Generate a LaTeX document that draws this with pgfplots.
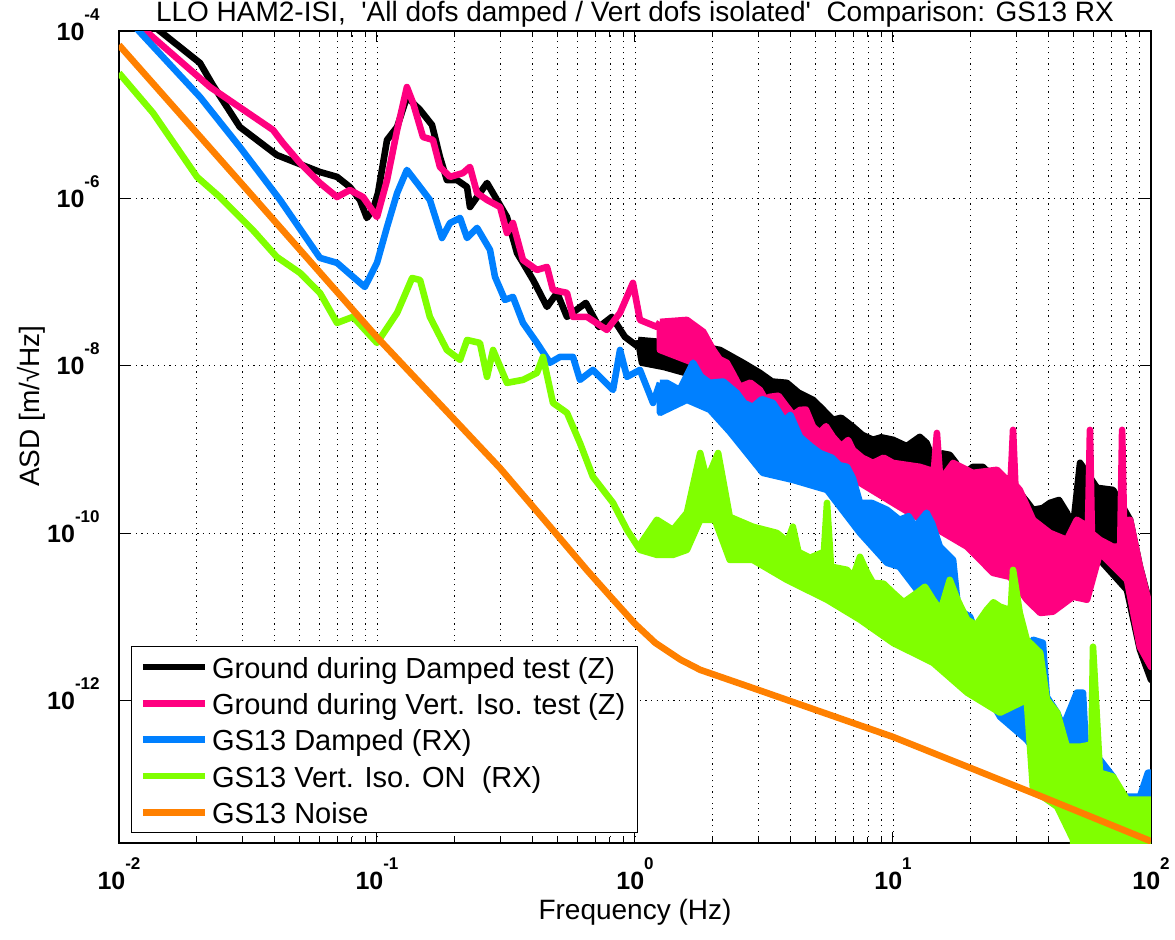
\documentclass[border=0pt]{standalone}
\usepackage{pgfplots}
\pgfplotsset{compat=1.18}
\usepackage{fontspec}
\setmainfont{Liberation Sans}
\definecolor{cpink}{RGB}{255,0,128}
\definecolor{cblue}{RGB}{0,128,255}
\definecolor{cgreen}{RGB}{128,255,0}
\definecolor{corange}{RGB}{255,128,0}
\newcommand{\tl}[1]{10\raisebox{10pt}{\fontsize{8.5}{10}\selectfont\bfseries #1}}
\begin{document}
\begin{tikzpicture}
\begin{axis}[
  xmode=log, ymode=log,
  scale only axis, width=516pt, height=406pt,
  xmin=0.01, xmax=100, ymin=2e-14, ymax=1e-4,
  xtick={0.01,0.1,1,10,100},
  xticklabels={\tl{-2},\tl{-1},\tl{0},\tl{1},\tl{2}},
  minor xtick={0.02,0.03,0.04,0.05,0.06,0.07,0.08,0.09,0.2,0.3,0.4,0.5,0.6,0.7,0.8,0.9,2,3,4,5,6,7,8,9,20,30,40,50,60,70,80,90},
  ytick={1e-12,1e-10,1e-8,1e-6,1e-4},
  yticklabels={\tl{-12},\tl{-10},\tl{-8},\tl{-6},\tl{-4}},
  yminorticks=false,
  xmajorgrids, xminorgrids, ymajorgrids,
  grid style={black, line width=0.4pt, dash pattern=on 0.6pt off 2.2pt},
  major grid style={black, line width=0.4pt, dash pattern=on 0.6pt off 2.2pt},
  minor grid style={black, line width=0.4pt, dash pattern=on 0.6pt off 2.2pt},
  tick align=inside, tick pos=both,
  major tick length=5.5pt, minor tick length=3pt,
  every tick/.style={black, line width=0.5pt},
  axis line style={line width=0.6pt},
  tick label style={font=\fontsize{12.5}{15}\selectfont\bfseries},
  xticklabel style={anchor=base, yshift=-23pt},
  yticklabel style={anchor=base east, inner xsep=0pt, xshift=-9.5pt, yshift=-4.5pt},
  every axis title shift=0pt,
  title={LLO HAM2-ISI,\ \ \textquotesingle All dofs damped / Vert dofs isolated\textquotesingle\ \ Comparison: GS13 RX},
  title style={font=\fontsize{14}{16}\selectfont, at={(rel axis cs:0.5,1.0111)}, anchor=base},
  xlabel={Frequency (Hz)},
  xlabel style={font=\fontsize{14}{16}\selectfont, at={(rel axis cs:0.5,-0.0948)}, anchor=base},
  ylabel={ASD [m/√Hz]},
  ylabel style={font=\fontsize{14}{16}\selectfont, at={(rel axis cs:-0.0766,0.538)}, anchor=base},
  every axis plot/.append style={line width=3.3pt, line join=round},
  legend cell align=left,
  legend image code/.code={\draw[#1] (0pt,0pt) -- (31pt,0pt);},
  legend style={at={(0.01163,0.01232)}, anchor=south west, draw=black, line width=0.5pt, fill=white,
    font=\fontsize{14.5}{17}\selectfont, inner xsep=4pt, inner ysep=0.9pt, row sep=0pt, column sep=0pt,
    nodes={inner xsep=2pt, inner ysep=0.4pt, text height=14.3pt, text depth=3.1pt}},
]
% ---------------- black: ground during damped test
\addplot[black] coordinates {
(0.01,2.5e-4) (0.0144,1e-4) (0.0206,4.15e-5) (0.0231,2.26e-5) (0.0294,7.14e-6) (0.0409,3.3e-6)
(0.049,2.65e-6) (0.0601,2.07e-6) (0.070,1.81e-6) (0.0785,1.37e-6) (0.0859,9.6e-7) (0.0914,5.85e-7)
(0.0964,7.3e-7) (0.1009,1.16e-6) (0.1094,5.0e-6) (0.1197,7.14e-6) (0.1306,1.63e-5) (0.1469,1.14e-5)
(0.1634,7.55e-6) (0.1754,3.13e-6) (0.1866,1.66e-6) (0.2042,1.66e-6) (0.2234,1.37e-6) (0.2293,7.9e-7)
(0.2443,1.04e-6) (0.267,1.53e-6) (0.2917,9.6e-7) (0.319,6.0e-7) (0.349,2.23e-7) (0.368,1.70e-7)
(0.403,1.06e-7) (0.456,5.07e-8) (0.499,7.45e-8) (0.545,3.85e-8) (0.645,5.65e-8) (0.725,2.92e-8)
(0.814,3.85e-8) (0.914,2.22e-8) (1.028,1.69e-8)
};
\addlegendentry{Ground during Damped test (Z)}
\addplot[black, fill=black, forget plot] coordinates {
(1.028,2.04e-8) (1.694,1.78e-8) (2.135,1.55e-8) (2.62,1.09e-8) (3.05,8.25e-9) (3.4,6.5e-9) (3.88,6.27e-9)
(4.3,4.8e-9) (4.90,3.93e-9) (5.3,3.1e-9) (5.85,2.27e-9) (6.3,2.4e-9) (7.0,1.87e-9) (7.6,1.5e-9)
(8.36,1.31e-9) (9.0,1.4e-9) (10,1.31e-9) (11.3,1.1e-9) (12.7,1.42e-9) (13.5,1.2e-9) (14.3,7.55e-10)
(15.5,9e-10) (16.6,8.65e-10) (17.5,7e-10) (18.2,4.72e-10) (20.4,6.22e-10) (22.3,6.22e-10) (24,5e-10)
(26.0,4.35e-10) (28,4.5e-10) (31.0,3.05e-10) (33,2.4e-10) (34.9,1.91e-10) (38,2.0e-10) (40.6,2.31e-10)
(44,2.5e-10) (47.2,1.76e-10) (49.9,1.20e-10) (53.1,6.95e-10) (61.8,3.49e-10)
(71.3,3.30e-10) (83.0,1.45e-10) (90.6,3.98e-11) (97.3,1.74e-11) (100,1.62e-11)
(100,1.78e-12) (90.6,4.07e-12) (80.7,2.11e-11) (63.4,4.82e-11) (53.1,7.3e-11) (43.3,5.09e-11)
(37.2,5.53e-11) (31.0,1.10e-10) (26.0,2.51e-10) (18.2,3.30e-10) (12.7,5.73e-10) (10,6.22e-10)
(7.45,7.55e-10) (5.55,9.9e-10) (3.99,2.27e-9) (3.05,3.93e-9) (2.27,6.81e-9) (1.79,1.03e-8)
(1.563,8.25e-9) (1.295,9.7e-9) (1.064,1.09e-8) (1.028,2.04e-8)
};
% ---------------- pink: ground during vert iso test
\addplot[cpink] coordinates {
(0.01,1.96e-4) (0.01285,9.7e-5) (0.02254,2.14e-5) (0.03954,6.58e-6) (0.0432,4.6e-6) (0.0503,2.65e-6)
(0.0601,1.53e-6) (0.070,1.04e-6) (0.0785,1.26e-6) (0.0883,1.04e-6) (0.1,6.0e-7) (0.1094,1.66e-6)
(0.1197,6.58e-6) (0.1306,2.14e-5) (0.138,1.38e-5) (0.1508,5.42e-6) (0.1648,5.0e-6) (0.1754,2.38e-6)
(0.1919,1.81e-6) (0.2153,2.01e-6) (0.2293,2.38e-6) (0.2443,1.16e-6) (0.267,9.6e-7) (0.300,7.9e-7)
(0.319,3.87e-7) (0.3365,5.09e-7) (0.368,1.84e-7) (0.417,1.40e-7) (0.456,1.52e-7) (0.481,8.07e-8)
(0.545,7.45e-8) (0.575,3.85e-8) (0.652,3.85e-8) (0.778,2.69e-8) (0.875,4.3e-8) (0.982,9.8e-8)
(1.045,3.54e-8) (1.216,2.92e-8) (1.25,3.35e-8)
};
\addlegendentry{Ground during Vert. Iso. test (Z)}
\addplot[cpink, fill=cpink, forget plot] coordinates {
(1.25,3.35e-8) (1.59,3.54e-8) (1.84,2.55e-8) (2.01,1.55e-8) (2.13,1.2e-8) (2.27,1.09e-8) (2.4,8.0e-9)
(2.55,5.61e-9) (2.8,6.3e-9) (3.05,5.16e-9) (3.2,4.0e-9) (3.33,4.26e-9) (3.6,4.4e-9) (3.88,3.24e-9)
(4.1,2.6e-9) (4.36,2.98e-9) (4.6,3.0e-9) (4.90,1.87e-9) (5.2,1.6e-9) (5.5,1.9e-9) (5.85,1.42e-9)
(6.3,1.1e-9) (6.7,1.3e-9) (7.0,9.9e-10) (7.6,8.0e-10) (8.36,6.93e-10) (9.2,8.0e-10)
(10,6.93e-10) (12.7,6.22e-10) (14.4,5.5e-10) (14.8,1.58e-9) (15.2,5.0e-10) (15.6,4.72e-10) (17.1,6.93e-10)
(20.4,5.27e-10) (25.3,5.73e-10) (27.7,4.35e-10) (28.6,4.4e-10) (29.2,1.72e-9) (29.8,3.8e-10) (31.0,3.30e-10)
(34.9,1.45e-10) (40.6,1.01e-10) (47.2,8.35e-11) (51.6,1.45e-10) (57,1.2e-10) (58.0,1.72e-9) (59,1.0e-10)
(63.4,8.35e-11) (71.3,6.9e-11) (76,7e-11) (77.3,1.72e-9) (78.6,1.4e-10) (83.0,1.45e-10) (90.6,3.98e-11)
(99.1,1.32e-11) (100,1.3e-11)
(100,2.54e-12) (90.6,4.4e-12) (80.7,2.78e-11) (69.3,4.44e-11) (63.4,5.85e-11) (56.5,1.61e-11)
(49.9,1.75e-11) (41.7,1.16e-11) (37.2,1.12e-11) (33.0,1.61e-11) (28.4,3.02e-11) (24.4,3.37e-11)
(19.4,6.9e-11) (14.3,1.20e-10) (10.6,2.07e-10) (10,2.31e-10) (7.45,4.01e-10) (5.55,9.1e-10)
(3.88,8.2e-10) (3.05,2.08e-9) (2.27,4.26e-9) (1.68,1.09e-8) (1.25,1.55e-8) (1.25,3.35e-8)
};
% ---------------- blue: GS13 damped RX
\addplot[cblue] coordinates {
(0.01,1.87e-4) (0.01205,9.7e-5) (0.0206,1.63e-5) (0.0294,4.12e-6) (0.0421,9.6e-7) (0.0601,1.95e-7)
(0.070,1.70e-7) (0.0807,1.16e-7) (0.0897,8.77e-8) (0.1,1.70e-7) (0.1094,4.57e-7) (0.1197,1.16e-6)
(0.1306,2.19e-6) (0.1429,1.53e-6) (0.1603,9.6e-7) (0.1786,3.37e-7) (0.1919,5.09e-7) (0.2099,5.85e-7)
(0.2234,3.37e-7) (0.2443,4.45e-7) (0.2742,2.43e-7) (0.2866,1.16e-7) (0.3133,6.14e-8) (0.3365,6.67e-8)
(0.368,3.26e-8) (0.417,1.88e-8) (0.468,1.09e-8) (0.512,1.28e-8) (0.575,1.28e-8) (0.612,6.81e-9)
(0.687,8.95e-9) (0.822,5.16e-9) (0.875,1.55e-8) (0.931,7.4e-9) (1.045,8.95e-9) (1.175,3.61e-9)
(1.25,6.27e-9)
};
\addlegendentry{GS13 Damped (RX)}
\addplot[cblue, fill=cblue, forget plot] coordinates {
(1.25,6.27e-9) (1.33,6.27e-9) (1.49,5.16e-9) (1.68,1.09e-8) (1.8,7.5e-9) (1.95,6.27e-9) (2.2,6.5e-9)
(2.48,4.76e-9) (2.65,3.6e-9) (2.86,3.24e-9) (3.1,4.0e-9) (3.43,3.61e-9) (3.8,2.2e-9) (4.0,2.6e-9)
(4.36,1.42e-9) (4.8,1.1e-9) (5.21,9.1e-10) (5.8,8e-10) (6.2,6.5e-10) (6.64,6.22e-10) (7.0,4.5e-10)
(7.45,2.31e-10) (8.3,2.3e-10) (9.48,1.91e-10) (10.6,1.45e-10) (11.5,1.6e-10) (12.2,1.2e-10)
(13.5,1.76e-10) (14.2,1.3e-10) (15.2,6.9e-11) (17.1,4.82e-11) (17.9,1.22e-11) (19.9,1.01e-11)
(23.1,2.84e-12) (25.3,1.35e-12) (28.4,1.35e-12) (31.9,1.11e-12) (34.9,5.35e-12) (38.1,4.92e-12)
(39.5,1.11e-12) (43.3,7.2e-13) (45.6,4.9e-13) (51.6,1.25e-12) (54.5,1.25e-12) (56.5,1.5e-13)
(63.4,1.98e-13) (71.3,1.24e-13) (75.9,7.15e-14) (90.6,7.15e-14) (97.3,1.38e-13) (100,1.38e-13)
(100,6.58e-14) (80.7,4.12e-14) (63.4,6.58e-14) (43.3,1.14e-13) (33.0,3.42e-13) (26.0,6.44e-13)
(22.7,1.35e-12) (18.2,4.92e-12) (13.9,1.33e-11) (10.6,3.98e-11) (9.48,4.44e-11) (7.45,1.01e-10)
(5.55,3.30e-10) (4.09,4.35e-10) (3.13,5.27e-10) (2.33,1.63e-9) (1.95,2.99e-9) (1.59,3.93e-9)
(1.25,2.75e-9) (1.25,6.27e-9)
};
% ---------------- green: GS13 vert iso ON RX
\addplot[cgreen] coordinates {
(0.01,3.15e-5) (0.01355,1.05e-5) (0.02005,1.81e-6) (0.0246,1.04e-6) (0.033,4.2e-7) (0.0409,2.0e-7)
(0.0503,1.29e-7) (0.0601,7.45e-8) (0.070,3.26e-8) (0.0807,3.85e-8) (0.1,1.88e-8) (0.1197,4.3e-8)
(0.1368,1.12e-7) (0.1469,1.06e-7) (0.1603,3.85e-8) (0.1866,1.55e-8) (0.2099,1.18e-8) (0.2234,2.04e-8)
(0.2506,1.88e-8) (0.267,7.4e-9) (0.2818,1.55e-8) (0.319,6.27e-9) (0.368,6.81e-9) (0.417,8.25e-9)
(0.44,1.28e-8) (0.481,3.61e-9) (0.545,2.75e-9) (0.612,1.2e-9) (0.687,4.73e-10) (0.822,2.31e-10)
(0.931,1.10e-10) (1.045,6.35e-11)
};
\addlegendentry{GS13 Vert. Iso. ON\ \ (RX)}
\addplot[cgreen, fill=cgreen, forget plot] coordinates {
(1.045,7.3e-11) (1.216,1.45e-10) (1.403,1.10e-10) (1.59,1.76e-10) (1.79,9.1e-10) (1.90,4.35e-10)
(2.10,9.1e-10) (2.33,1.57e-10) (2.86,1.20e-10) (3.55,1.01e-10) (3.9,8e-11) (4.09,1.2e-10) (4.3,6e-11)
(4.77,5.1e-11) (5.4,6e-11) (5.55,2.31e-10) (5.75,4e-11) (6.64,3.66e-11) (7.0,3.0e-11) (7.45,5.24e-11)
(7.9,3.5e-11) (8.36,2.56e-11) (9.2,2.5e-11) (10,1.95e-11) (11,1.5e-11) (12.4,1.95e-11) (13.3,2.3e-11)
(14.3,1.61e-11) (15.3,1.2e-11) (16.6,2.78e-11) (17.8,1.6e-11) (19.4,9.3e-12) (21,8e-12) (23.1,1.22e-11)
(24.5,1.5e-11) (26.0,1.33e-11) (28.6,1.2e-11) (29.2,3.66e-11) (31.0,1.12e-11) (33.0,5.35e-12) (37.2,3.74e-12)
(39.5,1.03e-12) (43.3,7.2e-13) (47.2,2.82e-13) (53.1,2.82e-13) (58.8,3e-13) (59.6,4.42e-12)
(63.4,1.38e-13) (71.3,1.24e-13) (80.7,6.58e-14) (100,6.58e-14)
(100,1e-14) (49.9,1e-14) (49.9,2.2e-14) (43.3,5.42e-14) (34.9,8.65e-14) (33.0,1.03e-12) (26.0,7.2e-13)
(19.4,1.25e-12) (14.3,2.84e-12) (10,4.92e-12) (7.45,9.3e-12) (5.55,1.61e-11) (3.88,2.78e-11)
(2.86,4.82e-11) (2.33,4.82e-11) (2.04,1.45e-10) (1.79,1.45e-10) (1.59,6.35e-11) (1.403,5.53e-11)
(1.216,5.53e-11) (1.045,6.35e-11) (1.045,7.3e-11)
};
% ---------------- orange: GS13 noise
\addplot[corange] coordinates {
(0.01,6.8e-5) (0.03,1.48e-6) (0.1,2.2e-8) (0.3,6.0e-10) (0.5,9.5e-11) (0.65,3.66e-11) (0.8,1.78e-11)
(1,8.3e-12) (1.2,4.9e-12) (1.5,3.1e-12) (1.79,2.34e-12) (3,1.35e-12) (10,3.7e-13) (34.9,7.9e-14)
(100,2.1e-14)
};
\addlegendentry{GS13 Noise}
\coordinate (SW) at (rel axis cs:0,0);
\end{axis}
\pgfresetboundingbox
\useasboundingbox ([shift={(-59.5pt,-48.5pt)}]SW) rectangle ([shift={(528pt,421.5pt)}]SW);
\end{tikzpicture}
\end{document}
